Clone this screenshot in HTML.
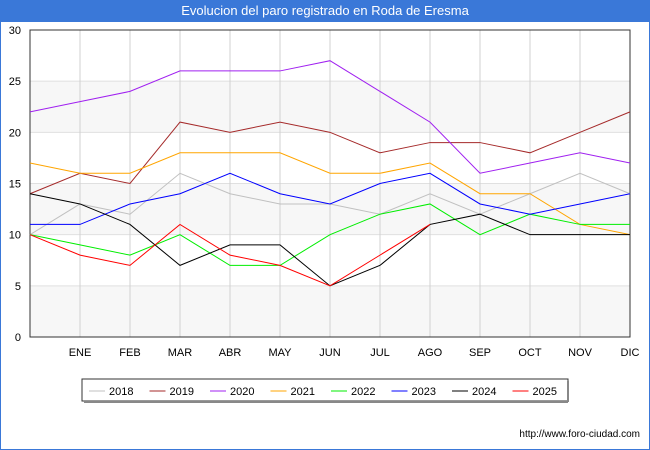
<!DOCTYPE html>
<html><head><meta charset="utf-8"><style>
body{margin:0;width:650px;height:450px;background:#fff;font-family:"Liberation Sans","DejaVu Sans",sans-serif;overflow:hidden;position:relative}
#outer{position:absolute;left:0;top:0;width:648px;height:448px;border:1px solid #3a78d8}
#title{position:absolute;left:0;top:0;width:650px;height:22px;background:#3a78d8;color:#fff;font-size:13px;text-align:center;line-height:22px}
</style></head><body>
<div id="outer"></div>
<div id="title">Evolucion del paro registrado en Roda de Eresma</div>
<svg id="c" width="650" height="450" style="position:absolute;left:0;top:0"></svg>
<script>
const categories=["","ENE","FEB","MAR","ABR","MAY","JUN","JUL","AGO","SEP","OCT","NOV","DIC"];
const yTicks=[0,5,10,15,20,25,30];
const seriesNames=["2018","2019","2020","2021","2022","2023","2024","2025"];
const seriesColors=["#c0c0c0","#a52a2a","#a020f0","#ffa500","#00ee00","#0000ff","#000000","#ff0000"];
const s2018=[10,13,12,16,14,13,13,12,14,12,14,16,14];
const s2019=[14,16,15,21,20,21,20,18,19,19,18,20,22];
const s2020=[22,23,24,26,26,26,27,24,21,16,17,18,17];
const s2021=[17,16,16,18,18,18,16,16,17,14,14,11,10];
const s2022=[10,9,8,10,7,7,10,12,13,10,12,11,11];
const s2023=[11,11,13,14,16,14,13,15,16,13,12,13,14];
const s2024=[14,13,11,7,9,9,5,7,11,12,10,10,10];
const s2025=[10,8,7,11,8,7,5,8,11];
const allSeries=[s2018,s2019,s2020,s2021,s2022,s2023,s2024,s2025];
const NS="http://www.w3.org/2000/svg";
const svg=document.getElementById('c');
const L=30,R=630,T=30,B=337;
const x=i=>L+(R-L)*i/(categories.length-1);
const y=v=>B-(B-T)*v/30;
function mk(t,a){const e=document.createElementNS(NS,t);for(const k in a)e.setAttribute(k,a[k]);svg.appendChild(e);return e;}
for(let i=0;i<yTicks.length-1;i+=2){
 const r=mk('rect',{x:L,y:y(yTicks[i+1]),width:R-L,height:y(yTicks[i])-y(yTicks[i+1]),fill:'#f7f7f7'});
 
 
}
yTicks.forEach(v=>{
 const l=mk('line',{x1:L,x2:R,y1:y(v),y2:y(v),stroke:'#e0e0e0','stroke-width':1});
 
 
 const t=mk('text',{x:L-9,y:y(v)+4,'text-anchor':'end','font-size':11,fill:'#000'});
 t.textContent=v;
 
 
});
categories.forEach((c,i)=>{
 const l=mk('line',{x1:x(i),x2:x(i),y1:T,y2:B,stroke:'#d0d0d0','stroke-width':1});
 
 
 if(c){const t=mk('text',{x:x(i),y:356,'text-anchor':'middle','font-size':11,fill:'#000'});
 t.textContent=c;
 
 }
});
const fr=mk('rect',{x:L,y:T,width:R-L,height:B-T,fill:'none',stroke:'#333','stroke-width':1});


allSeries.forEach((s,k)=>{
 const p=mk('polyline',{points:s.map((v,i)=>x(i)+','+y(v)).join(' '),fill:'none',stroke:seriesColors[k],'stroke-width':1});
 
 
});
const lg=mk('rect',{x:82,y:379,width:486,height:22,fill:'#fff',stroke:'#333','stroke-width':1});


mk('line',{x1:568,y1:381,x2:568,y2:402,stroke:'#888','stroke-width':2});
mk('line',{x1:84,y1:402,x2:568,y2:402,stroke:'#888','stroke-width':2});
seriesNames.forEach((n,k)=>{
 const bx=89+k*60.5;
 const l=mk('line',{x1:bx,x2:bx+16,y1:391,y2:391,stroke:seriesColors[k],'stroke-width':1});
 
 
 const t=mk('text',{x:bx+20,y:395,'font-size':11,fill:'#000'});
 t.textContent=n;
 
 
});
const f=mk('text',{x:640,y:437,'text-anchor':'end','font-size':10,fill:'#000'});
f.textContent='http://www.foro-ciudad.com';


</script>
</body></html>
